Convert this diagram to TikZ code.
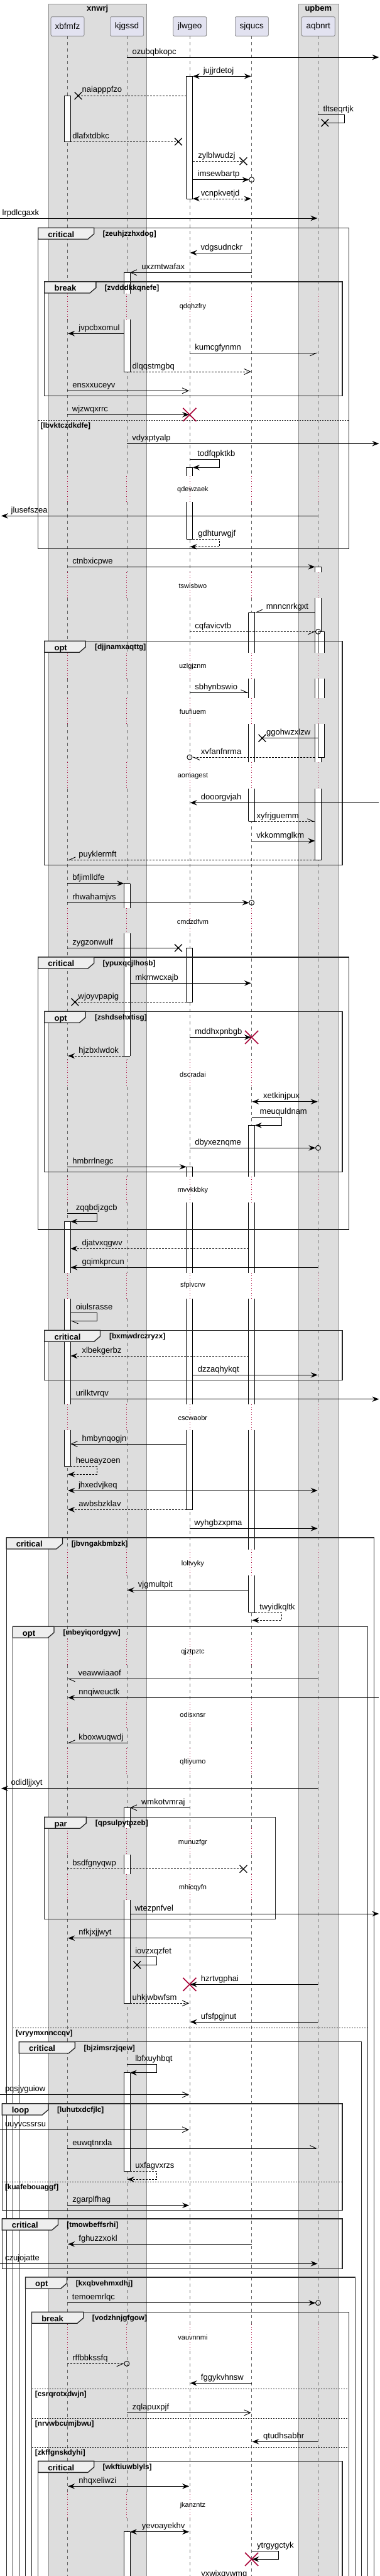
\documentclass[tikz,border=0pt]{standalone}
\usepackage{fontspec}
\setmainfont{Liberation Sans}
\usetikzlibrary{arrows.meta,shapes.misc}

\definecolor{bandgray}{HTML}{DDDDDD}
\definecolor{partfill}{HTML}{E2E2F0}
\definecolor{crimson}{HTML}{A80036}
\definecolor{tabfill}{HTML}{EEEEEE}

\tikzset{
  band/.style={fill=bandgray, draw=black!45, line width=0.6pt},
  bandtitle/.style={font=\bfseries\fontsize{13}{15}\selectfont, anchor=base, inner sep=0pt},
  party/.style={draw=black!55, fill=partfill, rounded corners=2pt, line width=0.7pt,
    minimum height=30.6pt, minimum width=53pt, font=\fontsize{13.5}{16}\selectfont},
  lifeline/.style={draw=black!60, line width=0.6pt, dash pattern=on 5pt off 5pt},
  delayline/.style={draw=crimson, line width=0.8pt, dash pattern=on 1pt off 3pt},
  delaytext/.style={font=\fontsize{11}{13}\selectfont, inner sep=0pt},
  frameline/.style={draw=black!85, line width=1.3pt},
  tabshape/.style={fill=tabfill, draw=black!85, line width=1.3pt},
  kindtext/.style={font=\bfseries\fontsize{13}{15}\selectfont, anchor=base west, inner sep=0pt},
  condtext/.style={font=\bfseries\fontsize{11.8}{14}\selectfont, anchor=base west, inner sep=0pt},
  elseline/.style={draw=black!85, line width=0.7pt, dash pattern=on 2pt off 2pt},
  lbl/.style={font=\fontsize{13}{15}\selectfont, anchor=base west, inner sep=0pt},
  sync/.style={line width=0.9pt, -{Stealth[length=11pt,width=8.5pt,inset=4pt]}},
  syncboth/.style={line width=0.9pt, {Stealth[length=11pt,width=8.5pt,inset=4pt]}-{Stealth[length=11pt,width=8.5pt,inset=4pt]}},
  async/.style={line width=0.9pt, -{Straight Barb[length=10pt,width=9pt]}},
  halfl/.style={line width=0.9pt, -{Straight Barb[left,length=10pt,width=9pt]}},
  halfr/.style={line width=0.9pt, -{Straight Barb[right,length=10pt,width=9pt]}},
  bare/.style={line width=0.9pt},
  reply/.style={dash pattern=on 3pt off 2pt},
  endring/.style={line width=0.9pt},
  lostmark/.style={draw, cross out, minimum size=10.5pt, inner sep=0pt, line width=1.3pt},
  killmark/.style={draw=crimson, cross out, minimum size=19.5pt, inner sep=0pt, line width=1.6pt},
}

\begin{document}
\begin{tikzpicture}[x=1.167pt, y=-1pt]
  \useasboundingbox (0,0) rectangle (518.4,4096);
  \fill[white] (0,0) rectangle (518.4,4096);

  % boxes
  \draw[band] (66,6) rectangle (200,4130);
  \draw[band] (407.3,6) rectangle (461.7,4130);
  \node[bandtitle] (xnwrj) at (133,17.7) {xnwrj};
  \node[bandtitle] (upbem) at (434.3,17.7) {upbem};

  % participants
  \node[party] (xbfmfz) at (92.2,42) {xbfmfz};
  \node[party] (kjgssd) at (173.2,42) {kjgssd};
  \node[party] (jlwgeo) at (259,42) {jlwgeo};
  \node[party] (sjqucs) at (343.5,42) {sjqucs};
  \node[party] (aqbnrt) at (434.3,42) {aqbnrt};

  % lifelines, dotted where the diagram is delayed
  \foreach \x in {92,173,258.7,343.3,434} {
    \foreach \a/\b in {57.3/467, 508/757, 798/910, 951/1038, 1079/1110, 1151/1212,
        1254/1444, 1484/1685, 1728/1871, 1912/2024, 2065/2233, 2274/2464, 2505/2606,
        2647/2706, 2748/2780, 2822/2907, 2949/2980, 3021/3696, 3738/3962, 4004/4130}
      \draw[lifeline] (\x,\a) -- (\x,\b);
    \foreach \a/\b in {467/508, 757/798, 910/951, 1038/1079, 1110/1151, 1212/1254,
        1444/1484, 1685/1728, 1871/1912, 2024/2065, 2233/2274, 2464/2505, 2606/2647,
        2706/2748, 2780/2822, 2907/2949, 2980/3021, 3696/3738, 3962/4004}
      \draw[delayline] (\x,\a) -- (\x,\b);
  }
  \foreach \y/\t in {488/qdqhzfry, 778.3/qdewzaek, 931.3/tswisbwo, 1059.3/uzlgjznm,
      1131.3/fuufiuem, 1234.3/aomagest, 1465.3/cmdzdfvm, 1709/dscradai, 1892.7/mvvkkbky,
      2044/sfplvcrw, 2254.3/cscwaobr, 2486.3/loltvyky, 2626.3/qjztpztc, 2727/odisxnsr,
      2801.3/qltiyumo, 2929.3/munuzfgr, 3001.3/mhicqyfn, 3717/vauvnnmi, 3983.3/jkanzntz}
    \node[delaytext] (delay-\t) at (263,\y) {\t};

  % activations (left edge / from / to / top closed / bottom closed)
  \foreach \xl/\ya/\yb/\ct/\cb in {254.3/121.3/316/1/1, 87.7/152.3/225.3/1/1,
      169/433.3/466.7/1/0, 169/508.3/591/0/1, 254.3/743.3/756.7/1/0, 254.3/798/857/0/1,
      429.7/901.3/909.7/1/0, 429.7/951.3/1037.7/0/0, 429.7/1079/1109.7/0/0,
      429.7/1151.3/1212.3/0/0, 429.7/1254/1367.3/0/1,
      339/973.7/1037.7/1/0, 339/1079/1109.7/0/0, 339/1151.3/1212.3/0/0, 339/1254/1306.3/0/1,
      434/1004.3/1037.7/1/0, 434/1079/1109.7/0/0, 434/1151.3/1204.3/0/1,
      169/1404.7/1444/1/0, 169/1484/1679/0/1, 254.3/1507.3/1593.3/1/1,
      339/1789.3/1870.7/1/0, 339/1912.3/2023.7/0/0, 339/2065/2232.7/0/0,
      339/2273.7/2464.3/0/0, 339/2505.3/2564.3/0/1,
      254.3/1855.3/1870.7/1/0, 254.3/1912.3/2023.7/0/0, 254.3/2065/2232.7/0/0,
      254.3/2273.7/2400.3/0/1,
      87.7/1942.3/2023.7/1/0, 87.7/2065/2232.7/0/0, 87.7/2273.7/2331.7/0/1,
      169/2874.3/2907.3/1/0, 169/2949/2979.7/0/0, 169/3021.3/3185.3/0/1,
      169/3295.7/3452.3/1/1, 169/4025.7/4130/1/0} {
    \fill[white] (\xl,\ya) rectangle (\xl+8.6,\yb);
    \draw[line width=0.8pt] (\xl,\ya) -- (\xl,\yb) (\xl+8.6,\ya) -- (\xl+8.6,\yb);
    \ifnum\ct=1 \draw[line width=0.8pt] (\xl,\ya) -- (\xl+8.6,\ya); \fi
    \ifnum\cb=1 \draw[line width=0.8pt] (\xl,\yb) -- (\xl+8.6,\yb); \fi
  }

  % groups
  \foreach \kind/\cond/\xa/\xb/\ya/\yb/\tx/\cx in {
      critical/zeuhjzzhxdog/52/475.7/362.3/872.3/128.3/140,
      break/zvdddkkqnefe/60.7/467/448/629.3/131/142.7,
      opt/djjnamxaqttg/60.7/467/1019.3/1375.7/116.7/129.3,
      critical/ypuxqcjlhosb/52/475.7/1522/1955/128.3/140,
      opt/zshdsehxtisg/60.7/467/1608.3/1863.3/116.7/129.3,
      critical/bxmwdrczryzx/60.7/467/2115.3/2194.3/136.7/149,
      critical/jbvngakbmbzk/8.7/510/2445/4130/85.3/97.3,
      opt/mbeyiqordgyw/17.3/501.7/2586.3/4130/73.7/86,
      par/qpsulpytpzeb/60.7/375.7/2889.3/3051.3/117.7/130,
      critical/bjzimsrzjqew/26/493/3246.7/4130/102.3/114.3,
      loop/luhutxdcfjlc/2.7/467/3345/3514.3/66/78,
      critical/tmowbeffsrhi/2.7/467/3528/3607.7/79.3/91,
      opt/kxqbvehmxdhj/34.7/484.3/3621/4130/91.3/103.3,
      break/vodzhnjgfgow/43.3/475.7/3676.3/4130/113.7/125.7,
      critical/wkftiuwblyls/52/467/3913.3/4130/128.3/140} {
    \draw[frameline] (\xa,\ya) rectangle (\xb,\yb);
    \filldraw[tabshape] (\xa,\ya) -- (\tx,\ya) -- (\tx,\ya+9.5) -- (\tx-8.5,\ya+18) -- (\xa,\ya+18) -- cycle;
    \node[kindtext] (kind-\cond) at (\xa+13.3,\ya+14.8) {\kind};
    \node[condtext] (cond-\cond) at (\cx,\ya+13.6) {[\cond]};
  }
  \foreach \ya/\xa/\xb/\cond/\cx in {668.3/52/475.7/lbvktczdkdfe/55.3,
      3224.3/17.3/501.7/vryymxnnccqv/21.3, 3469.3/2.7/467/kuafebouaggf/6.7,
      3798.3/43.3/475.7/csrqrotxdwjn/47.7, 3845.3/43.3/475.7/nrvwbcumjbwu/47.7,
      3891.3/43.3/475.7/zkffgnskdyhi/47.7} {
    \draw[elseline] (\xa,\ya) -- (\xb,\ya);
    \node[condtext] (else-\cond) at (\cx,\ya+12) {[\cond]};
  }

  % messages
  \draw[sync] (173,91) -- (517,91);
  \node[lbl] (ozubqbkopc) at (180.3,86) {ozubqbkopc};
  \draw[syncboth] (263,121.3) -- (342.5,121.3);
  \node[lbl] (jujjrdetoj) at (277.3,116.3) {jujjrdetoj};
  \draw[bare,reply] (254.3,152.3) -- (106.7,152.3);
  \node[lostmark] (x-naiapppfzo) at (106.7,152.3) {};
  \node[lbl] (naiapppfzo) at (111.7,146.5) {naiapppfzo};
  \draw[bare] (434,182.3) -- (470,182.3) -- (470,195.3) -- (443.3,195.3);
  \node[lostmark] (x-tltseqrtjk) at (443.3,195.3) {};
  \node[lbl] (tltseqrtjk) at (440.7,177.3) {tltseqrtjk};
  \draw[bare,reply] (96.3,225.3) -- (243.3,225.3);
  \node[lostmark] (x-dlafxtdbkc) at (243.3,225.3) {};
  \node[lbl] (dlafxtdbkc) at (98.7,220.3) {dlafxtdbkc};
  \draw[bare,reply] (263,256.3) -- (332,256.3);
  \node[lostmark] (x-zylblwudzj) at (332,256.3) {};
  \node[lbl] (zylblwudzj) at (270,251.3) {zylblwudzj};
  \draw[sync] (263,285.7) -- (339.8,285.7);
  \draw[endring] (343.3,285.7) circle[radius=4pt];
  \node[lbl] (imsewbartp) at (269.7,280.7) {imsewbartp};
  \draw[syncboth,reply] (263,316) -- (342.5,316);
  \node[lbl] (vcnpkvetjd) at (274,311) {vcnpkvetjd};
  \draw[sync] (0,347) -- (433,347);
  \node[lbl] (lrpdlcgaxk) at (3,342) {lrpdlcgaxk};

  \draw[sync] (343.3,402) -- (259.4,402);
  \node[lbl] (vdgsudnckr) at (273.7,397) {vdgsudnckr};
  \draw[async] (343.3,433.3) -- (177.3,433.3);
  \node[lbl] (uxzmtwafax) at (193,428.3) {uxzmtwafax};
  \draw[sync] (169,530.3) -- (92.7,530.3);
  \node[lbl] (jvpcbxomul) at (107.3,525.3) {jvpcbxomul};
  \draw[halfr] (258.7,561.3) -- (433.3,561.3);
  \node[lbl] (kumcgfynmn) at (265.7,556.3) {kumcgfynmn};
  \draw[async,reply] (177.3,591) -- (342.6,591);
  \node[lbl] (dlqqstmgbq) at (180.3,586) {dlqqstmgbq};
  \draw[async] (92,621.3) -- (258,621.3);
  \node[lbl] (ensxxuceyv) at (98.7,616.3) {ensxxuceyv};
  \draw[sync] (92,659.3) -- (258,659.3);
  \node[killmark] (kill-wjzwqxrrc) at (258.7,659.3) {};
  \node[lbl] (wjzwqxrrc) at (98.3,654.3) {wjzwqxrrc};

  \draw[sync] (173,705.3) -- (517,705.3);
  \node[lbl] (vdyxptyalp) at (180,700.3) {vdyxptyalp};
  \draw[sync] (258.7,730.3) -- (299.3,730.3) -- (299.3,743.3) -- (263,743.3);
  \node[lbl] (todfqpktkb) at (269.3,725.3) {todfqpktkb};
  \draw[sync] (434,820.3) -- (1.7,820.3);
  \node[lbl] (jlusefszea) at (15,815.3) {jlusefszea};
  \draw[sync,reply] (263,857) -- (299.3,857) -- (299.3,869.3) -- (259.4,869.3);
  \node[lbl] (gdhturwgjf) at (270,852) {gdhturwgjf};

  \draw[sync] (92,901.3) -- (429.7,901.3);
  \node[lbl] (ctnbxicpwe) at (98.7,896.3) {ctnbxicpwe};
  \draw[halfr] (429.7,973.7) -- (347.7,973.7);
  \node[lbl] (mnncnrkgxt) at (363,968.7) {mnncnrkgxt};
  \draw[halfr,reply] (258.7,1004.3) -- (430.5,1004.3);
  \draw[endring] (434,1004.3) circle[radius=4pt];
  \node[lbl] (cqfavicvtb) at (265.7,999.3) {cqfavicvtb};
  \draw[halfl] (258.7,1101.3) -- (339,1101.3);
  \node[lbl] (sbhynbswio) at (265.7,1096.3) {sbhynbswio};
  \draw[bare] (434,1173.7) -- (357.7,1173.7);
  \node[lostmark] (x-ggohwzxlzw) at (357.7,1173.7) {};
  \node[lbl] (ggohwzxlzw) at (363.3,1168.7) {ggohwzxlzw};
  \draw[halfl,reply] (429.7,1204) -- (262.1,1204);
  \draw[endring] (258.7,1204) circle[radius=4pt];
  \node[lbl] (xvfanfnrma) at (274,1199) {xvfanfnrma};
  \draw[sync] (517,1276.3) -- (259.4,1276.3);
  \node[lbl] (dooorgvjah) at (274,1271.3) {dooorgvjah};
  \draw[halfl,reply] (347.7,1306.3) -- (429.7,1306.3);
  \node[lbl] (xyfrjguemm) at (350,1301.3) {xyfrjguemm};
  \draw[sync] (343.3,1337) -- (429.7,1337);
  \node[lbl] (vkkommglkm) at (349.7,1332) {vkkommglkm};
  \draw[halfr,reply] (429.7,1367.3) -- (92.7,1367.3);
  \node[lbl] (puyklermft) at (107.3,1362.3) {puyklermft};

  \draw[sync] (92,1404.7) -- (169,1404.7);
  \node[lbl] (bfjimlldfe) at (98.7,1399.7) {bfjimlldfe};
  \draw[sync] (92,1435.3) -- (339.8,1435.3);
  \draw[endring] (343.3,1435.3) circle[radius=4pt];
  \node[lbl] (rhwahamjvs) at (98.7,1430.3) {rhwahamjvs};
  \draw[bare] (92,1507.3) -- (243.3,1507.3);
  \node[lostmark] (x-zygzonwulf) at (243.3,1507.3) {};
  \node[lbl] (zygzonwulf) at (98.7,1502.3) {zygzonwulf};
  \draw[sync] (177.3,1563.3) -- (342.6,1563.3);
  \node[lbl] (mkrnwcxajb) at (184.3,1558.3) {mkrnwcxajb};
  \draw[bare,reply] (254.3,1593.3) -- (102.3,1593.3);
  \node[lostmark] (x-wjoyvpapig) at (102.3,1593.3) {};
  \node[lbl] (wjoyvpapig) at (106.7,1588.3) {wjoyvpapig};
  \draw[sync] (258.7,1649.3) -- (342.6,1649.3);
  \node[killmark] (kill-mddhxpnbgb) at (343.3,1649.3) {};
  \node[lbl] (mddhxpnbgb) at (265.7,1644.3) {mddhxpnbgb};
  \draw[sync,reply] (169,1679) -- (92.7,1679);
  \node[lbl] (hjzbxlwdok) at (107.3,1674) {hjzbxlwdok};

  \draw[syncboth] (344,1751.7) -- (433.3,1751.7);
  \node[lbl] (xetkinjpux) at (359,1746.7) {xetkinjpux};
  \draw[sync] (343.3,1776.3) -- (384,1776.3) -- (384,1789.3) -- (347.7,1789.3);
  \node[lbl] (meuquldnam) at (354.3,1771.3) {meuquldnam};
  \draw[sync] (258.7,1825.3) -- (430.5,1825.3);
  \draw[endring] (434,1825.3) circle[radius=4pt];
  \node[lbl] (dbyxeznqme) at (265.7,1820.3) {dbyxeznqme};
  \draw[sync] (92,1855.3) -- (254.3,1855.3);
  \node[lbl] (hmbrrlnegc) at (98.7,1850.3) {hmbrrlnegc};
  \draw[sync] (92,1929.3) -- (132.7,1929.3) -- (132.7,1942.3) -- (96.3,1942.3);
  \node[lbl] (zqqbdjzgcb) at (103.3,1924.3) {zqqbdjzgcb};
  \draw[sync,reply] (339,1985.3) -- (96.3,1985.3);
  \node[lbl] (djatvxqgwv) at (111.7,1980.3) {djatvxqgwv};
  \draw[sync] (434,2015.3) -- (96.3,2015.3);
  \node[lbl] (gqimkprcun) at (111.7,2010.3) {gqimkprcun};

  \draw[halfl] (96.3,2087.7) -- (132.7,2087.7) -- (132.7,2100.3) -- (96.3,2100.3);
  \node[lbl] (oiulsrasse) at (103.3,2082.7) {oiulsrasse};
  \draw[sync,reply] (339,2156) -- (96.3,2156);
  \node[lbl] (xlbekgerbz) at (111.7,2151) {xlbekgerbz};
  \draw[sync] (263,2186.3) -- (433.3,2186.3);
  \node[lbl] (dzzaqhykqt) at (269.7,2181.3) {dzzaqhykqt};
  \draw[sync] (96.3,2224.7) -- (517,2224.7);
  \node[lbl] (urilktvrqv) at (103.3,2219.7) {urilktvrqv};
  \draw[async] (254.3,2296) -- (96.3,2296);
  \node[lbl] (hmbynqogjn) at (111.7,2291) {hmbynqogjn};
  \draw[sync,reply] (96.3,2331.7) -- (132.7,2331.7) -- (132.7,2344.3) -- (92.7,2344.3);
  \node[lbl] (heueayzoen) at (103.3,2326.7) {heueayzoen};
  \draw[syncboth] (92.7,2370) -- (433.3,2370);
  \node[lbl] (jhxedvjkeq) at (107,2365) {jhxedvjkeq};
  \draw[sync,reply] (254.3,2400.3) -- (92.7,2400.3);
  \node[lbl] (awbsbzklav) at (107.3,2395.3) {awbsbzklav};
  \draw[sync] (258.7,2430.3) -- (433.3,2430.3);
  \node[lbl] (wyhgbzxpma) at (265,2425.3) {wyhgbzxpma};

  \draw[sync] (339,2528.3) -- (173.7,2528.3);
  \node[lbl] (vjgmultpit) at (188.3,2523.3) {vjgmultpit};
  \draw[sync,reply] (347.7,2564.3) -- (384,2564.3) -- (384,2576.3) -- (344,2576.3);
  \node[lbl] (twyidkqltk) at (354,2559.3) {twyidkqltk};
  \draw[halfl] (434,2669.3) -- (92,2669.3);
  \node[lbl] (veawwiaaof) at (106.7,2664.3) {veawwiaaof};
  \draw[sync] (517,2699.3) -- (92.7,2699.3);
  \node[lbl] (nnqiweuctk) at (107.3,2694.3) {nnqiweuctk};
  \draw[halfr] (173,2771.3) -- (92,2771.3);
  \node[lbl] (kboxwuqwdj) at (107.3,2766.3) {kboxwuqwdj};
  \draw[sync] (434,2843.7) -- (1.7,2843.7);
  \node[lbl] (odidljjxyt) at (15,2838.7) {odidljjxyt};
  \draw[async] (258.7,2874.3) -- (177.3,2874.3);
  \node[lbl] (wmkotvmraj) at (192.7,2869.3) {wmkotvmraj};
  \draw[bare,reply] (92,2971.7) -- (332,2971.7);
  \node[lostmark] (x-bsdfgnyqwp) at (332,2971.7) {};
  \node[lbl] (bsdfgnyqwp) at (98.7,2966.7) {bsdfgnyqwp};
  \draw[sync] (177.3,3043) -- (517,3043);
  \node[lbl] (wtezpnfvel) at (183.7,3038) {wtezpnfvel};
  \draw[sync] (343.3,3081.7) -- (92.7,3081.7);
  \node[lbl] (nfkjxjjwyt) at (107.3,3076.7) {nfkjxjjwyt};
  \draw[bare] (177.3,3111.3) -- (213.7,3111.3) -- (213.7,3124.3) -- (187,3124.3);
  \node[lostmark] (x-iovzxqzfet) at (187,3124.3) {};
  \node[lbl] (iovzxqzfet) at (184.3,3106.3) {iovzxqzfet};
  \draw[sync] (434,3155.3) -- (259.4,3155.3);
  \node[killmark] (kill-hzrtvgphai) at (258.7,3155.3) {};
  \node[lbl] (hzrtvgphai) at (274,3150.3) {hzrtvgphai};
  \draw[async,reply] (177.3,3185.3) -- (258,3185.3);
  \node[lbl] (uhkjwbwfsm) at (180.3,3180.3) {uhkjwbwfsm};
  \draw[sync] (434,3215) -- (259.4,3215);
  \node[lbl] (ufsfpgjnut) at (274,3210) {ufsfpgjnut};

  \draw[sync] (173,3282.7) -- (213.7,3282.7) -- (213.7,3295.7) -- (177.3,3295.7);
  \node[lbl] (lbfxuyhbqt) at (184.3,3277.7) {lbfxuyhbqt};
  \draw[async] (0,3330.7) -- (258,3330.7);
  \node[lbl] (pqsjyguiow) at (6.7,3325.7) {pqsjyguiow};
  \draw[async] (0,3386.3) -- (258,3386.3);
  \node[lbl] (uuyvcssrsu) at (6.7,3381.3) {uuyvcssrsu};
  \draw[halfl] (92,3416) -- (433.3,3416);
  \node[lbl] (euwqtnrxla) at (98.7,3411) {euwqtnrxla};
  \draw[sync,reply] (177.3,3452.3) -- (213.7,3452.3) -- (213.7,3465.3) -- (173.7,3465.3);
  \node[lbl] (uxfagvxrzs) at (184.3,3447.3) {uxfagvxrzs};
  \draw[sync] (92,3506.7) -- (258,3506.7);
  \node[lbl] (zgarplfhag) at (98.7,3501.7) {zgarplfhag};
  \draw[sync] (343.3,3568.3) -- (92.7,3568.3);
  \node[lbl] (fghuzzxokl) at (107.3,3563.3) {fghuzzxokl};
  \draw[sync] (0,3599.3) -- (433.3,3599.3);
  \node[lbl] (czujojatte) at (6.7,3594.3) {czujojatte};

  \draw[sync] (92,3661.7) -- (430.5,3661.7);
  \draw[endring] (434,3661.7) circle[radius=4pt];
  \node[lbl] (temoemrlqc) at (98.3,3656.7) {temoemrlqc};
  \draw[halfr,reply] (92,3758.3) -- (169.5,3758.3);
  \draw[endring] (173,3758.3) circle[radius=4pt];
  \node[lbl] (rffbbkssfq) at (98.7,3753.3) {rffbbkssfq};
  \draw[sync] (343.3,3789.3) -- (259.4,3789.3);
  \node[lbl] (fggykvhnsw) at (274,3784.3) {fggykvhnsw};
  \draw[async] (173,3836.3) -- (342.6,3836.3);
  \node[lbl] (zqlapuxpjf) at (180.3,3831.3) {zqlapuxpjf};
  \draw[sync] (434,3882.3) -- (344,3882.3);
  \node[lbl] (qtudhsabhr) at (359,3877.3) {qtudhsabhr};
  \draw[syncboth] (92.7,3953.3) -- (258,3953.3);
  \node[lbl] (nhqxeliwzi) at (107.3,3948.3) {nhqxeliwzi};
  \draw[syncboth] (177.3,4025.7) -- (258,4025.7);
  \node[lbl] (yevoayekhv) at (193.3,4020.7) {yevoayekhv};
  \draw[sync] (343.3,4056.7) -- (379.7,4056.7) -- (379.7,4069.3) -- (344,4069.3);
  \node[killmark] (kill-ytrgygctyk) at (343.3,4069.3) {};
  \node[lbl] (ytrgygctyk) at (350.3,4051.7) {ytrgygctyk};
  \draw[halfr] (343.3,4101) -- (259.4,4101);
  \node[lbl] (yxwjxqywmq) at (274.3,4096) {yxwjxqywmq};
\end{tikzpicture}
\end{document}
